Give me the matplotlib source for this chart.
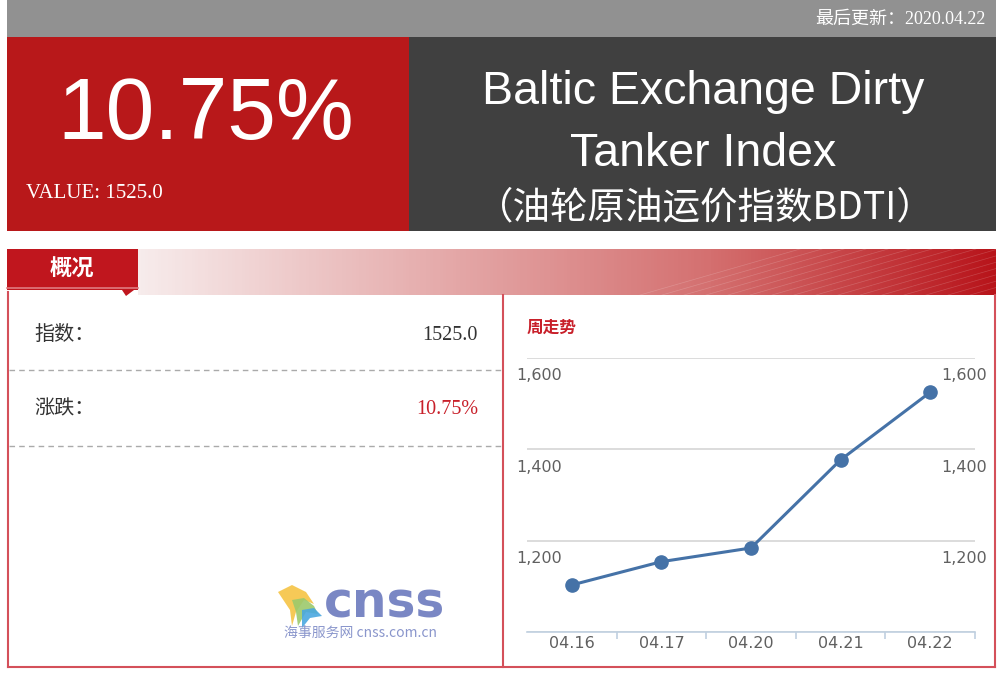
import numpy as np
import matplotlib
matplotlib.use("Agg")
import matplotlib.pyplot as plt
from matplotlib.patches import Rectangle, Polygon
from matplotlib.transforms import offset_copy

# data
dates = ["04.16", "04.17", "04.20", "04.21", "04.22"]
index_values = [1103, 1154, 1184, 1377, 1525]
y_labels = [1200, 1400, 1600]
change_pct = "10.75%"
current_value = "1525.0"
update_date = "2020.04.22"

RED = "#b8181a"
DARK = "#404040"
BORDER = "#d4505a"
CJK = "Noto Sans CJK SC"

fig = plt.figure(figsize=(10, 6.8), dpi=100)
bg = fig.add_axes([0, 0, 1, 1])
bg.set_xlim(0, 1000)
bg.set_ylim(680, 0)
bg.axis("off")

# top strip
bg.add_patch(Rectangle((7, 0), 989, 37, color="#919191", lw=0))
bg.text(986, 19, "最后更新：" + update_date, ha="right", va="center", color="white",
        fontsize=13, family=["Liberation Serif", CJK])

# header blocks
bg.add_patch(Rectangle((7, 37), 402, 194, color=RED, lw=0))
bg.add_patch(Rectangle((409, 37), 587, 194, color=DARK, lw=0))
bg.text(206, 117, change_pct, ha="center", va="center", color="white",
        fontsize=63, family="Liberation Sans")
bg.text(26, 193, "VALUE: " + current_value, ha="left", va="center", color="white",
        fontsize=15, family="Liberation Serif")
bg.text(703, 104, "Baltic Exchange Dirty", ha="center", va="baseline", color="white",
        fontsize=33.5, family="Liberation Sans")
bg.text(703, 166, "Tanker Index", ha="center", va="baseline", color="white",
        fontsize=33.5, family="Liberation Sans")
bg.text(705, 208, "（油轮原油运价指数BDTI）", ha="center", va="center", color="white",
        fontsize=27, family=[CJK, "Liberation Sans"])

# section header with gradient band
grad = np.linspace(0, 1, 256).reshape(1, -1)
cmap = matplotlib.colors.LinearSegmentedColormap.from_list(
    "band", ["#f7ecec", "#e6aeae", "#d47070", "#b8141a"])
bg.imshow(grad, extent=(138, 996, 295, 249), cmap=cmap, aspect="auto", zorder=1)
for k in range(16):
    x0 = 640 + 22 * k
    bg.plot([x0, x0 + 160], [295, 249], color="white", lw=0.5, alpha=0.18, zorder=2)
bg.add_patch(Rectangle((7, 249), 131, 41, color="#c0161e", lw=0, zorder=3))
bg.plot([7, 138], [288, 288], color="#e07a80", lw=1.2, zorder=4)
bg.add_patch(Polygon([[122, 290], [134, 290], [126, 296]], color="#c0161e", lw=0, zorder=3))
bg.text(72, 269, "概况", ha="center", va="center", color="white", fontsize=16,
        fontweight="bold", family=CJK, zorder=5)

# panel borders
bg.plot([8, 8], [292, 667], color=BORDER, lw=1.5)
bg.plot([995, 995], [295, 667], color=BORDER, lw=1.5)
bg.plot([8, 995], [667, 667], color=BORDER, lw=1.5)
bg.plot([503, 503], [295, 667], color=BORDER, lw=1.5)

# left info rows
serif_cjk = ["Liberation Serif", CJK]
bg.text(34, 335, "指数：", ha="left", va="center", color="#333333", fontsize=14.5, family=serif_cjk)
bg.text(478, 335, current_value, ha="right", va="center", color="#333333", fontsize=14.5,
        family="Liberation Serif")
bg.plot([9, 502], [370, 370], color="#aaaaaa", lw=1, ls=(0, (4, 3)))
bg.text(34, 410, "涨跌：", ha="left", va="center", color="#333333", fontsize=14.5, family=serif_cjk)
bg.text(478, 410, change_pct, ha="right", va="center", color="#c8202a", fontsize=14.5,
        family="Liberation Serif")
bg.plot([9, 502], [446, 446], color="#aaaaaa", lw=1, ls=(0, (4, 3)))

# cnss logo
bg.add_patch(Polygon([[278, 592], [292, 585], [306, 592], [314, 604], [304, 600], [296, 612],
                      [292, 626], [290, 610]], color="#f6c445", lw=0, alpha=0.9))
bg.add_patch(Polygon([[292, 600], [304, 598], [314, 606], [318, 614], [306, 612], [298, 626],
                      [296, 612]], color="#9cc96c", lw=0, alpha=0.9))
bg.add_patch(Polygon([[302, 610], [314, 608], [322, 616], [310, 618], [302, 628]],
                     color="#4aa8e0", lw=0, alpha=0.9))
bg.text(385, 604, "cnss", ha="center", va="center", color="#7a87c4", fontsize=35,
        fontweight="bold", family="DejaVu Sans")
bg.text(361, 633, "海事服务网 cnss.com.cn", ha="center", va="center", color="#8a96cc",
        fontsize=10, family=[CJK, "DejaVu Sans"])

# weekly trend chart
bg.text(527, 328, "周走势", ha="left", va="center", color="#c8202a", fontsize=12,
        fontweight="bold", family=CJK)

ax = fig.add_axes([0.527, 1 - 632 / 680, 0.448, (632 - 358) / 680])
ax.set_facecolor("none")
x = np.arange(len(dates))
ax.plot(x, index_values, color="#4572a7", lw=2.2, marker="o", markersize=9.5, zorder=3)
ax.set_xlim(-0.5, len(dates) - 0.5)
ax.set_ylim(1000, 1600)
ax.set_yticks([1000] + y_labels)
ax.yaxis.grid(True, color="#d6d6d6", lw=1.2)
ax.tick_params(axis="y", length=0, labelleft=False)
for s in ["top", "left", "right"]:
    ax.spines[s].set_visible(False)
ax.spines["bottom"].set_color("#c0d0e0")
ax.spines["bottom"].set_linewidth(1.2)
ax.set_xticks(x)
ax.set_xticklabels(dates, color="#606060", fontsize=11.5)
ax.tick_params(axis="x", which="major", length=0, pad=3)
ax.set_xticks(x + 0.5, minor=True)
ax.tick_params(axis="x", which="minor", length=5, color="#c0d0e0", width=1.2)

left_tr = offset_copy(ax.get_yaxis_transform(), fig=fig, x=-11, y=-18, units="dots")
right_tr = offset_copy(ax.get_yaxis_transform(), fig=fig, x=12, y=-18, units="dots")
for v in y_labels:
    lab = f"{v:,}"
    ax.text(0, v, lab, transform=left_tr, ha="left", va="center", color="#606060", fontsize=11.5)
    ax.text(1, v, lab, transform=right_tr, ha="right", va="center", color="#606060", fontsize=11.5)

fig.savefig("out.png", dpi=100, facecolor="white")
